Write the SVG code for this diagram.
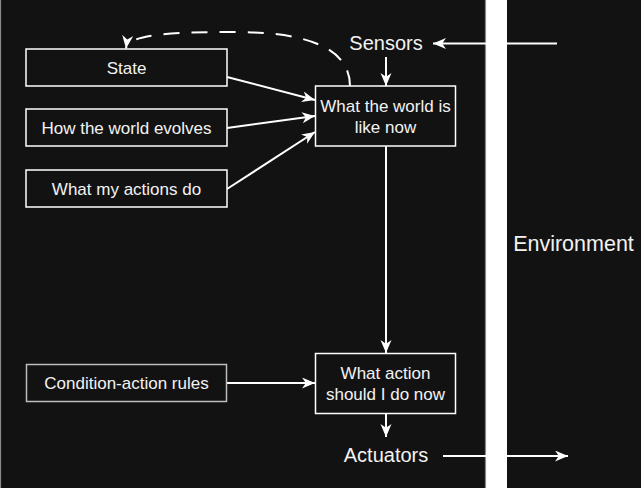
<svg xmlns="http://www.w3.org/2000/svg" width="641" height="488" viewBox="0 0 641 488">
<defs>
<style>
.panel{fill:#121212;}
.box{fill:#121212;stroke:#ffffff;stroke-width:1.5;}
.t{font-family:"Liberation Sans",Arial,sans-serif;font-size:17px;fill:#f2f2f2;text-anchor:middle;}
.lbl{font-family:"Liberation Sans",Arial,sans-serif;font-size:20px;fill:#f2f2f2;text-anchor:middle;}
.c{fill:none;stroke:#ffffff;stroke-width:2;marker-end:url(#arr);}
.d{stroke-dasharray:16 12;}
</style>
<marker id="arr" markerUnits="userSpaceOnUse" markerWidth="14" markerHeight="12" refX="13" refY="5.5" orient="auto" viewBox="0 0 14 12">
<path d="M0,0 L13,5.5 L0,11 L3.8,5.5 Z" fill="#ffffff" stroke="none"/>
</marker>
</defs>
<rect x="0" y="0" width="641" height="488" fill="#ffffff"/>
<rect class="panel" x="0.5" y="-2" width="485" height="492" stroke="#8a8a8a" stroke-width="1.2"/>
<rect class="panel" x="507" y="-2" width="136" height="492"/>

<g id="connectors">
<path class="c" d="M557,43.5 L433,43.5"/>
<path class="c" d="M386,57 L386,86"/>
<path class="c" d="M227,77 L315,100"/>
<path class="c" d="M227,128 L315,116"/>
<path class="c" d="M227,189 L315,132"/>
<path class="c" d="M386,146 L386,353"/>
<path class="c" d="M227,383 L315,383"/>
<path class="c" d="M386,413 L386,437"/>
<path class="c" d="M443,456 L568,456"/>
<path class="c d" d="M350,86 C350,45 300,32 235,32 C180,32 128,33 126,48.5"/>
</g>

<g id="state">
<rect class="box" x="26" y="49" width="201" height="37"/>
<text class="t" x="126.5" y="73.5">State</text>
</g>
<g id="evolves">
<rect class="box" x="26" y="109" width="201" height="37"/>
<text class="t" x="126.5" y="133.5">How the world evolves</text>
</g>
<g id="actions">
<rect class="box" x="26" y="170" width="201" height="37"/>
<text class="t" x="126.5" y="194.5">What my actions do</text>
</g>
<g id="world">
<rect class="box" x="315.5" y="86" width="140" height="60"/>
<text class="t" x="385.5" y="111.5">What the world is</text>
<text class="t" x="385.5" y="132.5">like now</text>
</g>
<g id="rules">
<rect class="box" x="26.5" y="364.5" width="200" height="37" style="stroke:#bdbdbd"/>
<text class="t" x="126.5" y="389">Condition-action rules</text>
</g>
<g id="action">
<rect class="box" x="315.5" y="353.5" width="140" height="60"/>
<text class="t" x="385.5" y="379">What action</text>
<text class="t" x="385.5" y="400">should I do now</text>
</g>
<g id="sensors">
<text class="lbl" x="386" y="49.5">Sensors</text>
</g>
<g id="actuators">
<text class="lbl" x="386" y="462">Actuators</text>
</g>
<g id="environment">
<text class="lbl" x="573.5" y="250.5" style="font-size:21.5px">Environment</text>
</g>
</svg>
